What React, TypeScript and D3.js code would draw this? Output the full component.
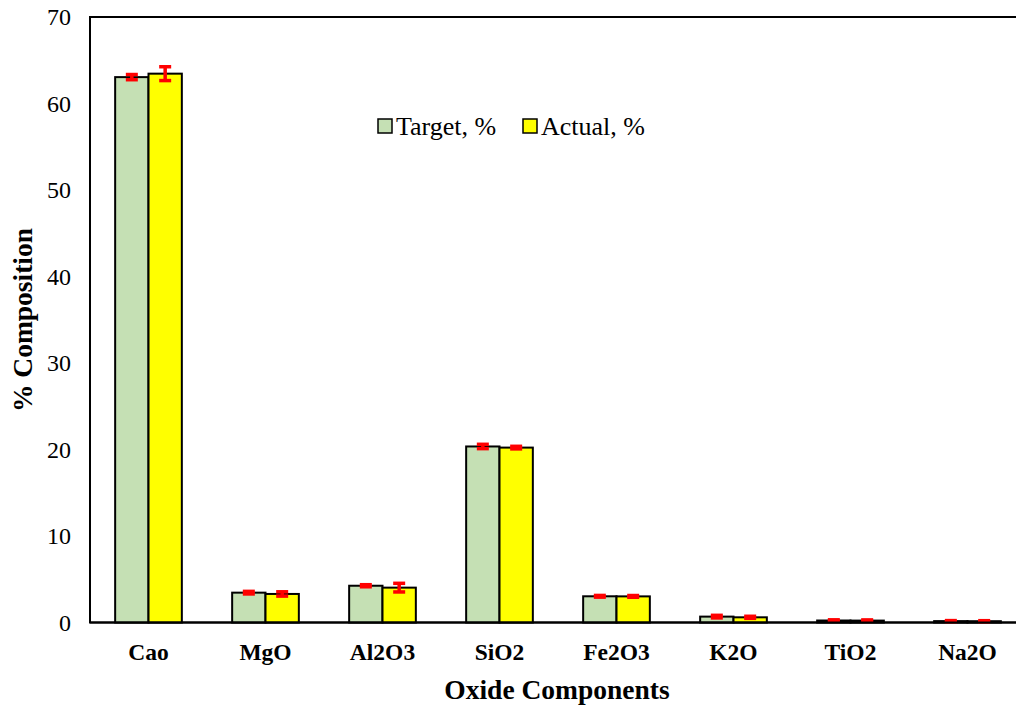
import React from "react";
import * as d3 from "d3";

const categories = ["Cao", "MgO", "Al2O3", "SiO2", "Fe2O3", "K2O", "TiO2", "Na2O"];
const targetValues = [63.05, 3.45, 4.25, 20.35, 3.03, 0.68, 0.23, 0.16];
const actualValues = [63.45, 3.3, 4.03, 20.22, 3.02, 0.6, 0.22, 0.15];
const targetErrors = [0.3, 0.15, 0.12, 0.25, 0.1, 0.15, 0.08, 0.06];
const actualErrors = [0.8, 0.25, 0.5, 0.15, 0.1, 0.12, 0.08, 0.06];
const yTicks = [0, 10, 20, 30, 40, 50, 60, 70];
const seriesNames = ["Target, %", "Actual, %"];
const seriesColors = ["#C5E0B4", "#FFFF00"];

const W = 1016;
const H = 707;
const left = 90;
const right = 1026;
const top = 17;
const bottom = 622.5;
const font = "Liberation Serif";

export default function App() {
  const x = d3.scaleBand<string>().domain(categories).range([left, right]).paddingInner(0.43).paddingOuter(0.215);
  const inner = d3.scaleBand<number>().domain([0, 1]).range([0, x.bandwidth()]);
  const y = d3.scaleLinear().domain([0, 70]).range([bottom, top]);
  const series = [targetValues, actualValues];
  const errs = [targetErrors, actualErrors];

  return (
    <svg width={W} height={H} style={{ position: "absolute", left: 0, top: 0, background: "#fff", fontFamily: font }}>
      <rect x={left} y={top} width={right - left} height={bottom - top} fill="none" stroke="#000" strokeWidth={2} />
      {yTicks.map((t) => (
        <text key={t} x={71} y={y(t)} textAnchor="end" dominantBaseline="central" style={{ fontFamily: font }} fontSize={24}>
          {t}
        </text>
      ))}
      {categories.map((c, i) => (
        <g key={c}>
          {series.map((s, k) => {
            const bx = (x(c) as number) + (inner(k) as number);
            const bw = inner.bandwidth();
            return (
              <rect key={k} x={bx} y={y(s[i])} width={bw} height={bottom - y(s[i])} fill={seriesColors[k]} stroke="#000" strokeWidth={2} />
            );
          })}
          {series.map((s, k) => {
            const cx = (x(c) as number) + (inner(k) as number) + inner.bandwidth() / 2;
            const y1 = y(s[i] + errs[k][i]);
            const y2 = y(s[i] - errs[k][i]);
            return (
              <g key={"e" + k} stroke="#FF0000" strokeWidth={3.5}>
                <line x1={cx} x2={cx} y1={y1} y2={y2} />
                <line x1={cx - 6} x2={cx + 6} y1={y1} y2={y1} />
                <line x1={cx - 6} x2={cx + 6} y1={y2} y2={y2} />
              </g>
            );
          })}
          <text x={(x(c) as number) + x.bandwidth() / 2} y={652} textAnchor="middle" dominantBaseline="central" style={{ fontFamily: font }} fontSize={23.5} fontWeight="bold">
            {c}
          </text>
        </g>
      ))}
      <line x1={left} x2={right} y1={bottom} y2={bottom} stroke="#000" strokeWidth={2} />
      <text x={557} y={689} textAnchor="middle" dominantBaseline="central" style={{ fontFamily: font }} fontSize={27.5} fontWeight="bold">
        Oxide Components
      </text>
      <text transform={`translate(22,320) rotate(-90)`} textAnchor="middle" dominantBaseline="central" style={{ fontFamily: font }} fontSize={27.5} fontWeight="bold">
        % Composition
      </text>
      {seriesNames.map((n, k) => {
        const lx = k === 0 ? 378 : 523;
        return (
          <g key={n}>
            <rect x={lx} y={119} width={14} height={14} fill={seriesColors[k]} stroke="#000" strokeWidth={1.5} />
            <text x={lx + 18} y={126} dominantBaseline="central" style={{ fontFamily: font }} fontSize={26}>
              {n}
            </text>
          </g>
        );
      })}
    </svg>
  );
}
